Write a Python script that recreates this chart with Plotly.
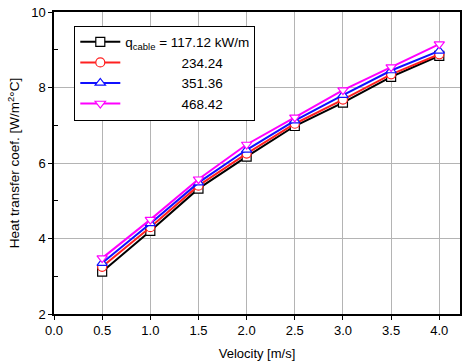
import plotly.graph_objects as go

velocity = [0.5, 1.0, 1.5, 2.0, 2.5, 3.0, 3.5, 4.0]
h_117 = [3.12, 4.20, 5.32, 6.17, 6.98, 7.60, 8.28, 8.84]
h_234 = [3.25, 4.30, 5.40, 6.25, 7.04, 7.68, 8.35, 8.88]
h_351 = [3.35, 4.40, 5.48, 6.35, 7.12, 7.80, 8.45, 8.97]
h_468 = [3.48, 4.50, 5.57, 6.49, 7.21, 7.93, 8.54, 9.15]
names = ["q<sub>cable</sub> = 117.12 kW/m",
         "\u00a0" * 15 + "234.24",
         "\u00a0" * 15 + "351.36",
         "\u00a0" * 15 + "468.42"]
colors = ["black", "#ff2020", "#1010ff", "#ff00ff"]
symbols = ["square", "circle", "triangle-up", "triangle-down"]
series = [h_117, h_234, h_351, h_468]

fig = go.Figure()
for y, n, c, s in zip(series, names, colors, symbols):
    fig.add_trace(go.Scatter(
        x=velocity, y=y, name=n, mode="lines+markers",
        line=dict(color=c, width=2),
        marker=dict(symbol=s, size=9, color="white", line=dict(color=c, width=1.2)),
    ))

font = "Liberation Sans, Arial, sans-serif"
fig.update_layout(
    width=463, height=364,
    margin=dict(l=54, r=1, t=12, b=50),
    paper_bgcolor="white", plot_bgcolor="white",
    font=dict(family=font, size=13, color="black"),
    showlegend=True,
    legend=dict(x=0.05, y=0.955, xanchor="left", yanchor="top",
                bgcolor="white", bordercolor="black", borderwidth=1,
                font=dict(size=13.5), tracegroupgap=0, itemwidth=40),
)
fig.update_xaxes(
    range=[0, 4.215], tickvals=[0, 0.5, 1, 1.5, 2, 2.5, 3, 3.5, 4],
    ticktext=["0.0", "0.5", "1.0", "1.5", "2.0", "2.5", "3.0", "3.5", "4.0"],
    showgrid=True, gridcolor="#b4b4b4", gridwidth=1,
    showline=True, linecolor="black", linewidth=1.5, mirror=True,
    ticks="outside", ticklen=4, tickcolor="black", zeroline=False,
    title=dict(text="Velocity [m/s]", font=dict(size=13), standoff=12),
)
fig.update_yaxes(
    range=[2, 10], tickvals=[2, 4, 6, 8, 10],
    showgrid=True, gridcolor="#b4b4b4", gridwidth=1,
    showline=True, linecolor="black", linewidth=1.5, mirror=True,
    ticks="outside", ticklen=4, tickcolor="black", zeroline=False,
    minor=dict(tickvals=[3, 5, 7, 9], ticks="inside", ticklen=4, tickcolor="black", showgrid=False),
    title=dict(text="Heat transfer coef. [W/m<sup>2</sup>\u00b0C]", font=dict(size=13.5), standoff=8),
)
fig.write_html("out.html")
